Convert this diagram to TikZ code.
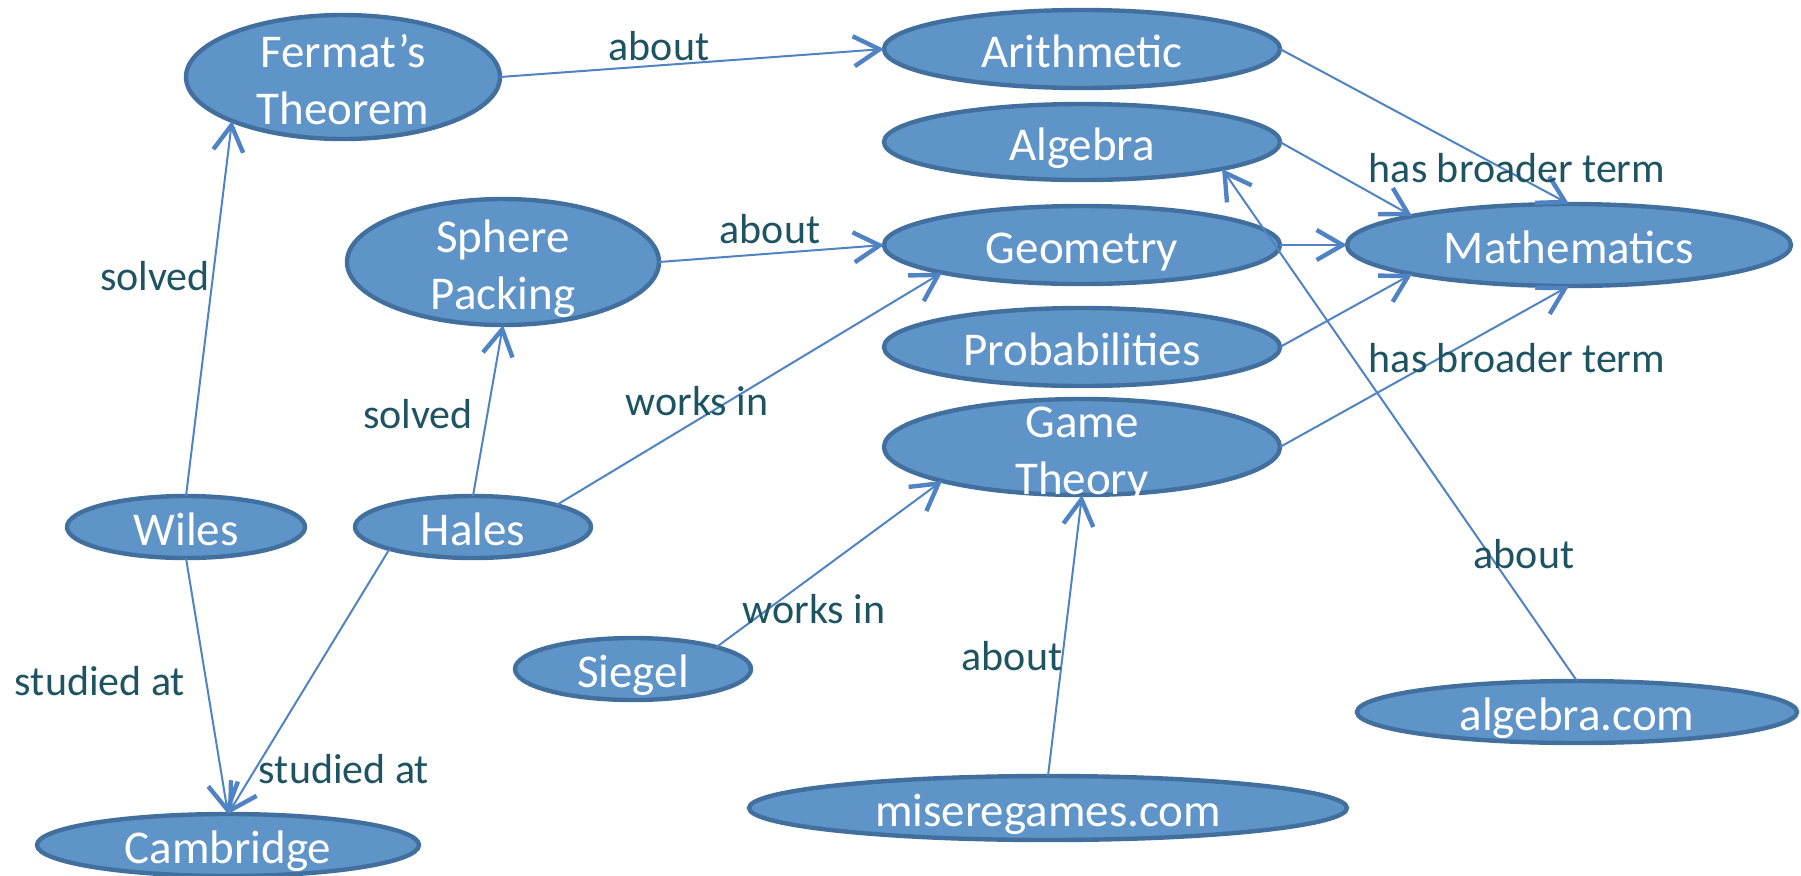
\documentclass[tikz,border=0pt]{standalone}
\usepackage{fontspec}
\setmainfont{Carlito}
\usetikzlibrary{arrows.meta,shapes.geometric}
\definecolor{termfill}{RGB}{95,148,201}
\definecolor{termline}{RGB}{66,112,158}
\definecolor{linkblue}{RGB}{80,131,196}
\definecolor{reltext}{RGB}{30,84,98}

\begin{document}
\begin{tikzpicture}[->,>={Straight Barb[length=13pt,width=15pt,line width=2.2pt]},x=0.5pt,y=-0.5pt,
  term/.style={ellipse, draw=termline, fill=termfill, line width=2.2pt, text=white, inner sep=-40pt, outer sep=0pt, font=\fontsize{23.5}{28.5}\selectfont},
  oneline/.style={term, text height=23.5pt, text depth=4.7pt},
  twoline/.style={term, align=center, text height=52pt, text depth=4.7pt},
  rel/.style={text=reltext, anchor=base, font=\fontsize{21}{25}\selectfont},
  link/.style={color=linkblue, line width=1pt}]
\useasboundingbox (0,0) rectangle (1801,875);
% topics
\node[twoline, minimum width=157pt, minimum height=62pt] (FT) at (343,77) {Fermat's\\Theorem};
\node[twoline, minimum width=156pt, minimum height=63pt] (SP) at (503,262) {Sphere\\Packing};
\node[oneline, minimum width=198pt, minimum height=39pt] (AR) at (1082,49) {Arithmetic};
\node[oneline, minimum width=198pt, minimum height=38pt] (AL) at (1082,142) {Algebra};
\node[oneline, minimum width=198pt, minimum height=39pt] (GE) at (1082,245) {Geometry};
\node[oneline, minimum width=198pt, minimum height=39pt] (PR) at (1082,347) {Probabilities};
\node[twoline, minimum width=198pt, minimum height=48pt] (GT) at (1082,447) {Game\\Theory};
\node[oneline, minimum width=222pt, minimum height=41pt] (MA) at (1569,245) {Mathematics};
% people, places, sites
\node[oneline, minimum width=119pt, minimum height=31pt] (WI) at (186,527) {Wiles};
\node[oneline, minimum width=118pt, minimum height=31pt] (HA) at (473,527) {Hales};
\node[oneline, minimum width=118pt, minimum height=31pt] (SI) at (633,669) {Siegel};
\node[oneline, minimum width=191pt, minimum height=31pt] (CA) at (228,845) {Cambridge};
\node[oneline, minimum width=299pt, minimum height=32pt] (MG) at (1048,808) {miseregames.com};
\node[oneline, minimum width=220pt, minimum height=31pt] (AC) at (1577,712) {algebra.com};
% relations
\path[link] (WI.north) edge (FT.south west)
  (HA.north) edge (SP.south)
  (FT.east) edge (AR.west)
  (SP.east) edge (GE.west)
  (HA.north east) edge (GE.south west)
  (SI.north east) edge (GT.south west)
  (WI.south) edge (CA.north)
  (HA.south west) edge (CA.north)
  (AR.east) edge (MA.north)
  (AL.east) edge (MA.north west)
  (GE.east) edge (MA.west)
  (PR.east) edge (MA.south west)
  (GT.east) edge (MA.south)
  (MG.north) edge (GT.south)
  (AC.north) edge (AL.south east);
% labels
\node[rel] (ab1) at (659,60) {about};
\node[rel] (ab2) at (770,243) {about};
\node[rel] (so1) at (155,290) {solved};
\node[rel] (so2) at (418,428) {solved};
\node[rel] (wo1) at (697,415) {works in};
\node[rel] (wo2) at (814,623) {works in};
\node[rel] (hb1) at (1517,182) {has broader term};
\node[rel] (hb2) at (1517,372) {has broader term};
\node[rel] (st1) at (100,695) {studied at};
\node[rel] (st2) at (344,783) {studied at};
\node[rel] (ab3) at (1524,568) {about};
\node[rel] (ab4) at (1012,670) {about};
\end{tikzpicture}
\end{document}
